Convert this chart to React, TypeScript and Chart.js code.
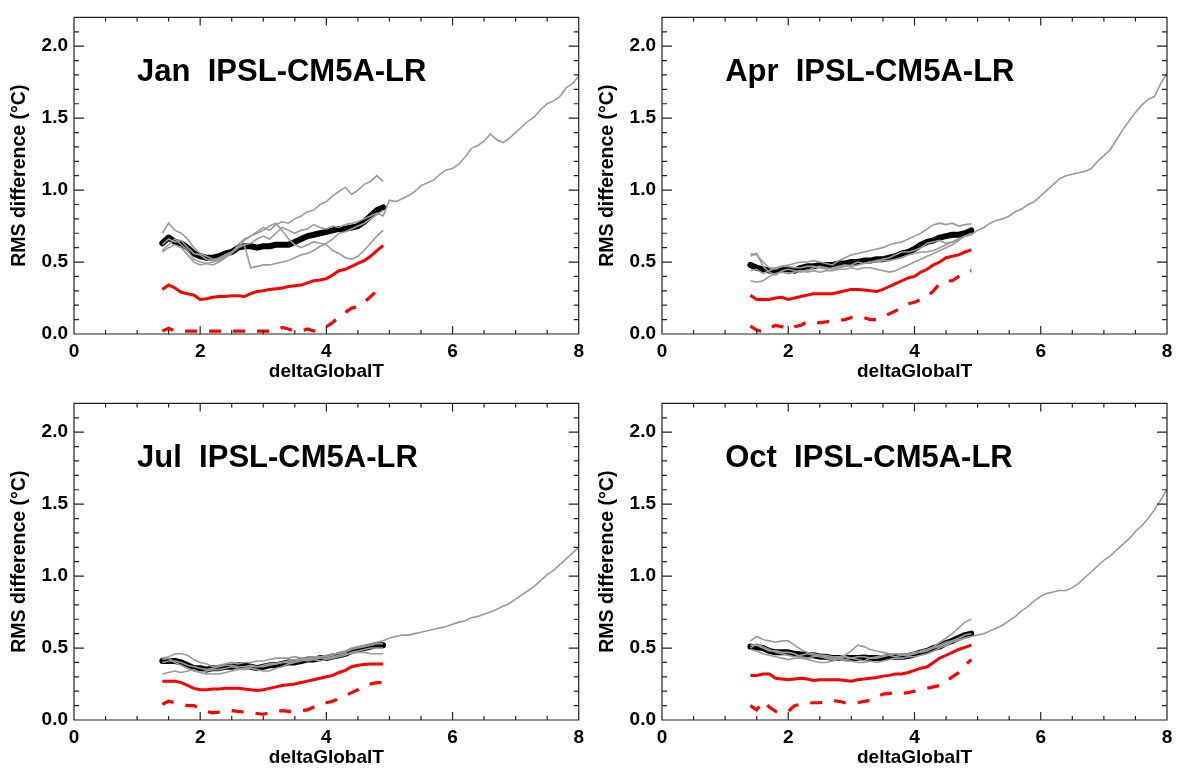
import React, { useEffect, useRef } from "react";
import { Chart, registerables } from "chart.js";

Chart.register(...registerables);

// ---------- data ----------
const X_SHORT = [1.4, 1.5, 1.6, 1.7, 1.8, 1.9, 2.0, 2.1, 2.2, 2.3, 2.4, 2.5, 2.6, 2.7, 2.8, 2.9, 3.0, 3.1, 3.2, 3.3, 3.4, 3.5, 3.6, 3.7, 3.8, 3.9, 4.0, 4.1, 4.2, 4.3, 4.4, 4.5, 4.6, 4.7, 4.8, 4.9];
const X_TAIL = [5.0, 5.1, 5.2, 5.3, 5.4, 5.5, 5.6, 5.7, 5.8, 5.9, 6.0, 6.1, 6.2, 6.3, 6.4, 6.5, 6.6, 6.7, 6.8, 6.9, 7.0, 7.1, 7.2, 7.3, 7.4, 7.5, 7.6, 7.7, 7.8, 7.9, 8.0];

const X_TICKS = [0, 2, 4, 6, 8];
const Y_TICKS = [0, 0.5, 1.0, 1.5, 2.0];

// Jan
const JAN_MEAN = [0.63, 0.67, 0.64, 0.63, 0.60, 0.56, 0.54, 0.53, 0.53, 0.54, 0.56, 0.57, 0.60, 0.61, 0.61, 0.60, 0.61, 0.61, 0.62, 0.62, 0.62, 0.64, 0.66, 0.68, 0.69, 0.70, 0.71, 0.72, 0.73, 0.73, 0.74, 0.75, 0.78, 0.82, 0.86, 0.88];
const JAN_RED = [0.31, 0.34, 0.32, 0.29, 0.28, 0.27, 0.24, 0.245, 0.255, 0.26, 0.26, 0.265, 0.265, 0.26, 0.28, 0.295, 0.30, 0.31, 0.315, 0.32, 0.33, 0.335, 0.34, 0.355, 0.37, 0.375, 0.385, 0.41, 0.44, 0.45, 0.47, 0.49, 0.51, 0.54, 0.58, 0.615];
const JAN_DASH = [0.02, 0.04, 0.02, 0.02, 0.02, 0.02, 0.02, 0.02, 0.02, 0.02, 0.02, 0.02, 0.02, 0.02, 0.02, 0.02, 0.02, 0.02, 0.025, 0.045, 0.035, 0.02, 0.02, 0.035, 0.02, 0.04, 0.05, 0.08, 0.12, 0.15, 0.18, 0.19, 0.22, 0.26, 0.30, 0.34];
const JAN_M1 = [0.70, 0.77, 0.72, 0.70, 0.66, 0.60, 0.56, 0.54, 0.52, 0.52, 0.55, 0.57, 0.60, 0.65, 0.68, 0.71, 0.74, 0.72, 0.76, 0.78, 0.77, 0.80, 0.82, 0.85, 0.86, 0.90, 0.92, 0.96, 0.99, 1.02, 0.97, 1.00, 1.04, 1.06, 1.10, 1.06];
const JAN_M2 = [0.58, 0.62, 0.66, 0.62, 0.58, 0.52, 0.50, 0.49, 0.50, 0.51, 0.54, 0.56, 0.60, 0.62, 0.46, 0.47, 0.48, 0.48, 0.49, 0.50, 0.51, 0.53, 0.55, 0.56, 0.58, 0.61, 0.63, 0.66, 0.70, 0.71, 0.73, 0.75, 0.77, 0.80, 0.83, 0.86];
const JAN_M3 = [0.57, 0.60, 0.62, 0.60, 0.55, 0.50, 0.48, 0.49, 0.48, 0.50, 0.53, 0.56, 0.62, 0.66, 0.68, 0.70, 0.72, 0.75, 0.77, 0.72, 0.66, 0.62, 0.60, 0.62, 0.64, 0.63, 0.62, 0.58, 0.56, 0.53, 0.52, 0.54, 0.58, 0.63, 0.68, 0.72];
const JAN_LONG = [0.62, 0.66, 0.64, 0.65, 0.60, 0.56, 0.55, 0.52, 0.51, 0.53, 0.55, 0.57, 0.60, 0.62, 0.63, 0.66, 0.68, 0.66, 0.70, 0.74, 0.72, 0.70, 0.72, 0.73, 0.76, 0.74, 0.73, 0.75, 0.74, 0.76, 0.77, 0.78, 0.80, 0.82, 0.84, 0.82];
const JAN_TAIL = [0.93, 0.92, 0.94, 0.96, 0.99, 1.03, 1.05, 1.07, 1.11, 1.14, 1.15, 1.18, 1.23, 1.29, 1.31, 1.34, 1.39, 1.35, 1.33, 1.36, 1.40, 1.44, 1.48, 1.51, 1.56, 1.60, 1.62, 1.65, 1.71, 1.74, 1.79];

// Apr
const APR_MEAN = [0.48, 0.46, 0.45, 0.44, 0.44, 0.45, 0.45, 0.44, 0.46, 0.47, 0.47, 0.48, 0.48, 0.48, 0.49, 0.49, 0.50, 0.50, 0.51, 0.51, 0.52, 0.52, 0.53, 0.54, 0.56, 0.57, 0.59, 0.62, 0.64, 0.65, 0.67, 0.68, 0.69, 0.69, 0.70, 0.72];
const APR_RED = [0.27, 0.24, 0.24, 0.24, 0.25, 0.255, 0.24, 0.25, 0.26, 0.27, 0.28, 0.28, 0.28, 0.28, 0.29, 0.30, 0.31, 0.31, 0.305, 0.30, 0.295, 0.31, 0.33, 0.35, 0.37, 0.39, 0.40, 0.43, 0.45, 0.48, 0.50, 0.53, 0.54, 0.55, 0.57, 0.585];
const APR_DASH = [0.055, 0.027, 0.016, 0.04, 0.06, 0.05, 0.032, 0.05, 0.06, 0.085, 0.085, 0.078, 0.085, 0.087, 0.096, 0.10, 0.115, 0.12, 0.114, 0.10, 0.10, 0.12, 0.14, 0.16, 0.19, 0.21, 0.22, 0.24, 0.26, 0.30, 0.35, 0.37, 0.37, 0.40, 0.42, 0.44];
const APR_M1 = [0.56, 0.55, 0.50, 0.46, 0.45, 0.47, 0.48, 0.49, 0.50, 0.50, 0.51, 0.50, 0.49, 0.48, 0.51, 0.53, 0.55, 0.56, 0.57, 0.58, 0.59, 0.60, 0.62, 0.63, 0.64, 0.66, 0.68, 0.70, 0.73, 0.76, 0.77, 0.76, 0.77, 0.75, 0.76, 0.765];
const APR_M2 = [0.37, 0.36, 0.37, 0.40, 0.42, 0.43, 0.42, 0.43, 0.44, 0.43, 0.44, 0.43, 0.44, 0.44, 0.45, 0.45, 0.46, 0.45, 0.46, 0.46, 0.45, 0.44, 0.43, 0.44, 0.46, 0.48, 0.50, 0.52, 0.54, 0.56, 0.58, 0.60, 0.62, 0.65, 0.68, 0.70];
const APR_M3 = [0.54, 0.56, 0.47, 0.43, 0.41, 0.44, 0.45, 0.44, 0.43, 0.44, 0.46, 0.47, 0.46, 0.45, 0.46, 0.47, 0.48, 0.50, 0.49, 0.50, 0.51, 0.52, 0.53, 0.55, 0.57, 0.57, 0.58, 0.60, 0.63, 0.64, 0.65, 0.63, 0.64, 0.66, 0.68, 0.69];
const APR_LONG = [0.44, 0.45, 0.42, 0.44, 0.46, 0.47, 0.47, 0.46, 0.46, 0.47, 0.47, 0.46, 0.45, 0.46, 0.47, 0.48, 0.47, 0.48, 0.49, 0.50, 0.50, 0.51, 0.51, 0.52, 0.53, 0.55, 0.56, 0.57, 0.57, 0.58, 0.60, 0.62, 0.64, 0.66, 0.68, 0.69];
const APR_TAIL = [0.72, 0.74, 0.77, 0.79, 0.80, 0.82, 0.85, 0.87, 0.90, 0.92, 0.96, 1.00, 1.04, 1.08, 1.10, 1.11, 1.12, 1.13, 1.15, 1.20, 1.24, 1.28, 1.35, 1.42, 1.48, 1.54, 1.59, 1.63, 1.65, 1.74, 1.81];

// Jul
const JUL_MEAN = [0.41, 0.41, 0.41, 0.40, 0.38, 0.36, 0.36, 0.35, 0.36, 0.36, 0.37, 0.37, 0.38, 0.38, 0.37, 0.36, 0.37, 0.38, 0.38, 0.39, 0.40, 0.40, 0.41, 0.42, 0.42, 0.43, 0.43, 0.44, 0.45, 0.46, 0.48, 0.49, 0.50, 0.51, 0.52, 0.52];
const JUL_RED = [0.27, 0.27, 0.27, 0.26, 0.24, 0.22, 0.21, 0.21, 0.215, 0.215, 0.22, 0.22, 0.22, 0.215, 0.21, 0.205, 0.21, 0.22, 0.23, 0.24, 0.245, 0.25, 0.26, 0.27, 0.28, 0.29, 0.30, 0.31, 0.33, 0.345, 0.37, 0.38, 0.385, 0.39, 0.39, 0.39];
const JUL_DASH = [0.11, 0.13, 0.12, 0.11, 0.10, 0.10, 0.08, 0.06, 0.05, 0.055, 0.06, 0.065, 0.06, 0.055, 0.05, 0.045, 0.04, 0.05, 0.06, 0.065, 0.06, 0.06, 0.065, 0.07, 0.09, 0.11, 0.12, 0.13, 0.15, 0.17, 0.19, 0.21, 0.23, 0.25, 0.26, 0.26];
const JUL_M1 = [0.43, 0.44, 0.46, 0.46, 0.45, 0.42, 0.40, 0.39, 0.37, 0.38, 0.39, 0.40, 0.39, 0.40, 0.40, 0.41, 0.41, 0.42, 0.43, 0.43, 0.43, 0.44, 0.43, 0.43, 0.44, 0.44, 0.45, 0.46, 0.46, 0.47, 0.49, 0.50, 0.51, 0.52, 0.53, 0.53];
const JUL_M2 = [0.32, 0.33, 0.34, 0.33, 0.34, 0.35, 0.33, 0.32, 0.32, 0.32, 0.33, 0.34, 0.35, 0.36, 0.37, 0.37, 0.38, 0.39, 0.39, 0.40, 0.41, 0.42, 0.42, 0.41, 0.42, 0.43, 0.43, 0.44, 0.45, 0.46, 0.46, 0.47, 0.47, 0.46, 0.46, 0.46];
const JUL_M3 = [0.42, 0.43, 0.40, 0.38, 0.36, 0.34, 0.33, 0.34, 0.35, 0.35, 0.36, 0.37, 0.36, 0.35, 0.36, 0.35, 0.34, 0.34, 0.36, 0.37, 0.39, 0.40, 0.41, 0.42, 0.42, 0.41, 0.42, 0.43, 0.44, 0.45, 0.47, 0.48, 0.49, 0.50, 0.50, 0.50];
const JUL_LONG = [0.40, 0.41, 0.41, 0.40, 0.38, 0.37, 0.36, 0.35, 0.36, 0.37, 0.38, 0.38, 0.37, 0.37, 0.38, 0.37, 0.37, 0.38, 0.39, 0.40, 0.40, 0.41, 0.42, 0.42, 0.43, 0.44, 0.44, 0.45, 0.47, 0.48, 0.50, 0.51, 0.52, 0.53, 0.54, 0.55];
const JUL_TAIL = [0.57, 0.58, 0.59, 0.59, 0.60, 0.61, 0.62, 0.63, 0.64, 0.65, 0.665, 0.68, 0.69, 0.71, 0.72, 0.735, 0.75, 0.77, 0.79, 0.81, 0.84, 0.87, 0.90, 0.93, 0.97, 1.01, 1.04, 1.08, 1.12, 1.16, 1.20];

// Oct
const OCT_MEAN = [0.51, 0.505, 0.50, 0.48, 0.47, 0.47, 0.47, 0.46, 0.455, 0.45, 0.45, 0.44, 0.44, 0.43, 0.43, 0.43, 0.43, 0.43, 0.435, 0.43, 0.43, 0.43, 0.44, 0.44, 0.44, 0.445, 0.455, 0.47, 0.48, 0.50, 0.51, 0.535, 0.55, 0.57, 0.59, 0.60];
const OCT_RED = [0.31, 0.31, 0.32, 0.32, 0.29, 0.285, 0.28, 0.285, 0.29, 0.285, 0.275, 0.28, 0.28, 0.28, 0.28, 0.275, 0.27, 0.28, 0.285, 0.29, 0.295, 0.305, 0.31, 0.32, 0.32, 0.33, 0.345, 0.36, 0.37, 0.40, 0.43, 0.45, 0.47, 0.49, 0.505, 0.52];
const OCT_DASH = [0.10, 0.07, 0.13, 0.09, 0.06, 0.05, 0.06, 0.10, 0.11, 0.12, 0.12, 0.12, 0.125, 0.135, 0.13, 0.12, 0.115, 0.12, 0.13, 0.135, 0.16, 0.18, 0.185, 0.19, 0.185, 0.19, 0.20, 0.21, 0.22, 0.23, 0.24, 0.27, 0.30, 0.33, 0.38, 0.42];
const OCT_M1 = [0.55, 0.58, 0.56, 0.55, 0.54, 0.55, 0.55, 0.52, 0.49, 0.47, 0.46, 0.45, 0.45, 0.44, 0.44, 0.45, 0.48, 0.52, 0.51, 0.49, 0.48, 0.47, 0.46, 0.46, 0.45, 0.45, 0.46, 0.48, 0.49, 0.51, 0.54, 0.57, 0.60, 0.64, 0.68, 0.70];
const OCT_M2 = [0.49, 0.48, 0.46, 0.45, 0.44, 0.43, 0.42, 0.43, 0.43, 0.42, 0.41, 0.40, 0.40, 0.41, 0.42, 0.41, 0.41, 0.40, 0.40, 0.41, 0.40, 0.41, 0.42, 0.43, 0.43, 0.44, 0.44, 0.45, 0.46, 0.48, 0.50, 0.52, 0.54, 0.55, 0.57, 0.58];
const OCT_M3 = [0.50, 0.53, 0.51, 0.49, 0.47, 0.46, 0.45, 0.44, 0.45, 0.46, 0.45, 0.44, 0.43, 0.42, 0.43, 0.44, 0.43, 0.42, 0.41, 0.43, 0.44, 0.45, 0.45, 0.44, 0.45, 0.46, 0.47, 0.47, 0.48, 0.50, 0.51, 0.53, 0.55, 0.57, 0.59, 0.60];
const OCT_LONG = [0.52, 0.52, 0.50, 0.48, 0.48, 0.47, 0.47, 0.46, 0.44, 0.43, 0.44, 0.45, 0.44, 0.43, 0.43, 0.42, 0.43, 0.44, 0.44, 0.43, 0.43, 0.44, 0.45, 0.46, 0.46, 0.45, 0.46, 0.48, 0.49, 0.50, 0.52, 0.54, 0.55, 0.56, 0.57, 0.58];
const OCT_TAIL = [0.59, 0.60, 0.62, 0.64, 0.66, 0.69, 0.72, 0.76, 0.79, 0.83, 0.86, 0.88, 0.89, 0.90, 0.90, 0.92, 0.95, 0.99, 1.03, 1.07, 1.11, 1.14, 1.18, 1.22, 1.26, 1.31, 1.35, 1.40, 1.46, 1.53, 1.60];

const MODEL = "IPSL-CM5A-LR";
const PANELS = [
  { month: "Jan", mean: JAN_MEAN, red: JAN_RED, dash: JAN_DASH, members: [JAN_M1, JAN_M2, JAN_M3], long: JAN_LONG, tail: JAN_TAIL },
  { month: "Apr", mean: APR_MEAN, red: APR_RED, dash: APR_DASH, members: [APR_M1, APR_M2, APR_M3], long: APR_LONG, tail: APR_TAIL },
  { month: "Jul", mean: JUL_MEAN, red: JUL_RED, dash: JUL_DASH, members: [JUL_M1, JUL_M2, JUL_M3], long: JUL_LONG, tail: JUL_TAIL },
  { month: "Oct", mean: OCT_MEAN, red: OCT_RED, dash: OCT_DASH, members: [OCT_M1, OCT_M2, OCT_M3], long: OCT_LONG, tail: OCT_TAIL },
];

// ---------- styling ----------
const FONT = '"Liberation Sans", Arial, Helvetica, sans-serif';
const GRAY = "#9a9a9a";
const RED = "#ff0000";
const FRAME = "#222222";
const TITLE_X = 1.0;
const TITLE_Y = 1.76;
const PANEL_W = 590;
const PANEL_H = 386;

function pts(xs: number[], ys: number[]) {
  return xs.map((x, i) => ({ x, y: ys[i] }));
}

type Spec = (typeof PANELS)[number];

function Panel({ spec, index }: { spec: Spec; index: number }) {
  const ref = useRef<HTMLCanvasElement>(null);
  const col = index % 2;
  const row = Math.floor(index / 2);

  useEffect(() => {
    const canvas = ref.current;
    if (!canvas) return;
    const yAxisW = col === 0 ? 74 : 72;
    const padRight = col === 0 ? 10.5 : 13;
    const titlePad = col === 0 ? 8 : 6;
    const title = `${spec.month}  ${MODEL}`;

    const framePlugin = {
      id: "idlFrame",
      afterDraw(chart: any) {
        const { ctx, chartArea: a, scales } = chart;
        const xs = scales.x;
        const ys = scales.y;
        ctx.save();
        ctx.strokeStyle = FRAME;
        ctx.lineWidth = 1.2;
        ctx.beginPath();
        ctx.rect(a.left, a.top, a.right - a.left, a.bottom - a.top);
        for (let i = 0; i <= 22; i++) {
          const p = ys.getPixelForValue(i * 0.1);
          const len = i % 5 === 0 ? 10 : 5;
          ctx.moveTo(a.left, p);
          ctx.lineTo(a.left + len, p);
          ctx.moveTo(a.right, p);
          ctx.lineTo(a.right - len, p);
        }
        for (let i = 0; i <= 16; i++) {
          const p = xs.getPixelForValue(i * 0.5);
          const len = i % 4 === 0 ? 8 : 4;
          ctx.moveTo(p, a.bottom);
          ctx.lineTo(p, a.bottom - len);
          ctx.moveTo(p, a.top);
          ctx.lineTo(p, a.top + len);
        }
        ctx.stroke();
        ctx.fillStyle = "#000";
        ctx.font = `bold 31px ${FONT}`;
        ctx.textBaseline = "alphabetic";
        ctx.textAlign = "left";
        ctx.fillText(title, xs.getPixelForValue(TITLE_X), ys.getPixelForValue(TITLE_Y));
        ctx.restore();
      },
    };

    const longXs = X_SHORT.concat(X_TAIL);
    const datasets: any[] = [];
    spec.members.forEach((m, i) => {
      datasets.push({ label: `member ${i + 1}`, data: pts(X_SHORT, m), borderColor: GRAY, borderWidth: 1.6, pointRadius: 0, order: 0 });
    });
    datasets.push({ label: "long member", data: pts(longXs, spec.long.concat(spec.tail)), borderColor: GRAY, borderWidth: 1.6, pointRadius: 0, order: 0 });
    datasets.push({ label: "mean", data: pts(X_SHORT, spec.mean), borderColor: "#000", borderWidth: 6, pointRadius: 0, order: 1, borderJoinStyle: "round", borderCapStyle: "round" });
    datasets.push({ label: "red", data: pts(X_SHORT, spec.red), borderColor: RED, borderWidth: 3, pointRadius: 0, order: 2 });
    datasets.push({ label: "red dashed", data: pts(X_SHORT, spec.dash), borderColor: RED, borderWidth: 3.2, borderDash: [12, 12], pointRadius: 0, order: 2 });

    const tickFont = { family: FONT, size: 19, weight: "bold" as const };
    const chart = new Chart(canvas, {
      type: "line",
      data: { datasets },
      plugins: [framePlugin],
      options: {
        animation: false,
        responsive: false,
        devicePixelRatio: 1,
        events: [],
        layout: { padding: { left: 0, right: padRight, top: 12, bottom: 0 } },
        plugins: { legend: { display: false }, tooltip: { enabled: false }, title: { display: false } },
        elements: { line: { tension: 0 } },
        scales: {
          x: {
            type: "linear",
            min: 0,
            max: 8,
            afterBuildTicks: (s: any) => {
              s.ticks = X_TICKS.map((v) => ({ value: v }));
            },
            afterFit: (s: any) => {
              s.height = 52;
            },
            grid: { display: false, drawTicks: false },
            border: { display: false },
            ticks: { font: tickFont, color: "#000", padding: 6, maxRotation: 0, autoSkip: false, callback: (v: any) => String(v) },
            title: { display: true, text: "deltaGlobalT", color: "#000", font: { family: FONT, size: 19, weight: "bold" }, padding: { top: 0, bottom: 3 } },
          },
          y: {
            type: "linear",
            min: 0,
            max: 2.2,
            afterBuildTicks: (s: any) => {
              s.ticks = Y_TICKS.map((v) => ({ value: v }));
            },
            afterFit: (s: any) => {
              s.width = yAxisW;
            },
            grid: { display: false, drawTicks: false },
            border: { display: false },
            ticks: { font: tickFont, color: "#000", padding: 6, autoSkip: false, callback: (v: any) => Number(v).toFixed(1) },
            title: { display: true, text: "RMS difference (°C)", color: "#000", font: { family: FONT, size: 19.5, weight: "bold" }, padding: { top: titlePad, bottom: 0 } },
          },
        },
      } as any,
    });
    return () => chart.destroy();
  }, [spec, col]);

  return (
    <canvas
      ref={ref}
      width={PANEL_W}
      height={PANEL_H}
      style={{ position: "absolute", left: col * PANEL_W, top: row * PANEL_H, width: PANEL_W, height: PANEL_H, display: "block" }}
    />
  );
}

export default function App() {
  return (
    <div style={{ position: "absolute", left: 0, top: 0, width: 1180, height: 772, background: "#fff", overflow: "hidden" }}>
      {PANELS.map((p, i) => (
        <Panel key={p.month} spec={p} index={i} />
      ))}
    </div>
  );
}
